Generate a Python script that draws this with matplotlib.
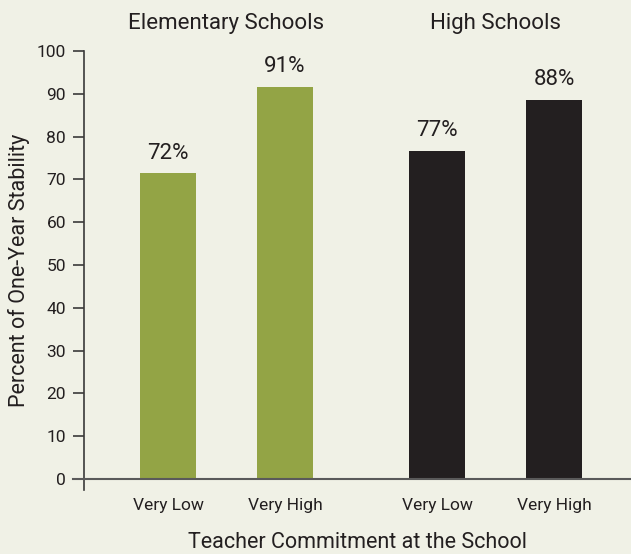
#!/usr/bin/env python3
"""One-year stability by teacher commitment, elementary vs high schools"""

import matplotlib
matplotlib.use("Agg")
import matplotlib.pyplot as plt

# Data
groups = ["Elementary Schools", "High Schools"]
categories = ["Very Low", "Very High", "Very Low", "Very High"]
bar_heights = [71.4, 91.7, 76.7, 88.5]
value_labels = ["72%", "91%", "77%", "88%"]
yticks = [0, 10, 20, 30, 40, 50, 60, 70, 80, 90, 100]

# Style
bg = "#f0f1e6"
green = "#93a445"
black = "#231f20"
txt = "#231f20"
plt.rcParams["font.family"] = ["Roboto", "DejaVu Sans"]

xpos = [0, 1, 2.3, 3.3]
colors = [green, green, black, black]

fig = plt.figure(figsize=(6.31, 5.54), dpi=100, facecolor=bg)
ax = fig.add_axes([84 / 631, (554 - 490) / 554, 547 / 631, 439 / 554])
ax.set_facecolor(bg)

ax.bar(xpos, bar_heights, width=0.48, color=colors, zorder=2)

# Labels on top of the bars
for x, v, lab in zip(xpos, bar_heights, value_labels):
    ax.text(x, v + 2.3, lab, ha="center", va="bottom", fontsize=16, color=txt)

# Group headings
for i, g in enumerate(groups):
    gx = (xpos[2 * i] + xpos[2 * i + 1]) / 2
    ax.text(gx, 104.0, g, ha="center", va="bottom", fontsize=16, color=txt,
            clip_on=False)

ax.set_xlim(-0.718, 3.957)
ax.set_ylim(-2.6, 100)
ax.set_yticks(yticks)
ax.set_xticks(xpos)
ax.set_xticklabels(categories, fontsize=12.5, color=txt)
ax.tick_params(axis="x", length=0, pad=6)
ax.tick_params(axis="y", length=8, width=1.2, color="#3a3a3a", labelsize=12.5,
               labelcolor=txt, pad=5)

for s in ["top", "right", "bottom"]:
    ax.spines[s].set_visible(False)
ax.spines["left"].set_color("#3a3a3a")
ax.spines["left"].set_linewidth(1.2)

# zero baseline reaching past the spine to the right edge
ax.plot([-0.0205, 1], [0, 0], transform=ax.get_yaxis_transform(),
        color="#5a5a5a", lw=1.5, clip_on=False, zorder=3)

ax.set_ylabel("Percent of One-Year Stability", fontsize=15.5, color=txt,
              labelpad=5)
ax.set_xlabel("Teacher Commitment at the School", fontsize=15.5, color=txt,
              labelpad=13.5)

plt.savefig("out.png", dpi=100, facecolor=bg)
